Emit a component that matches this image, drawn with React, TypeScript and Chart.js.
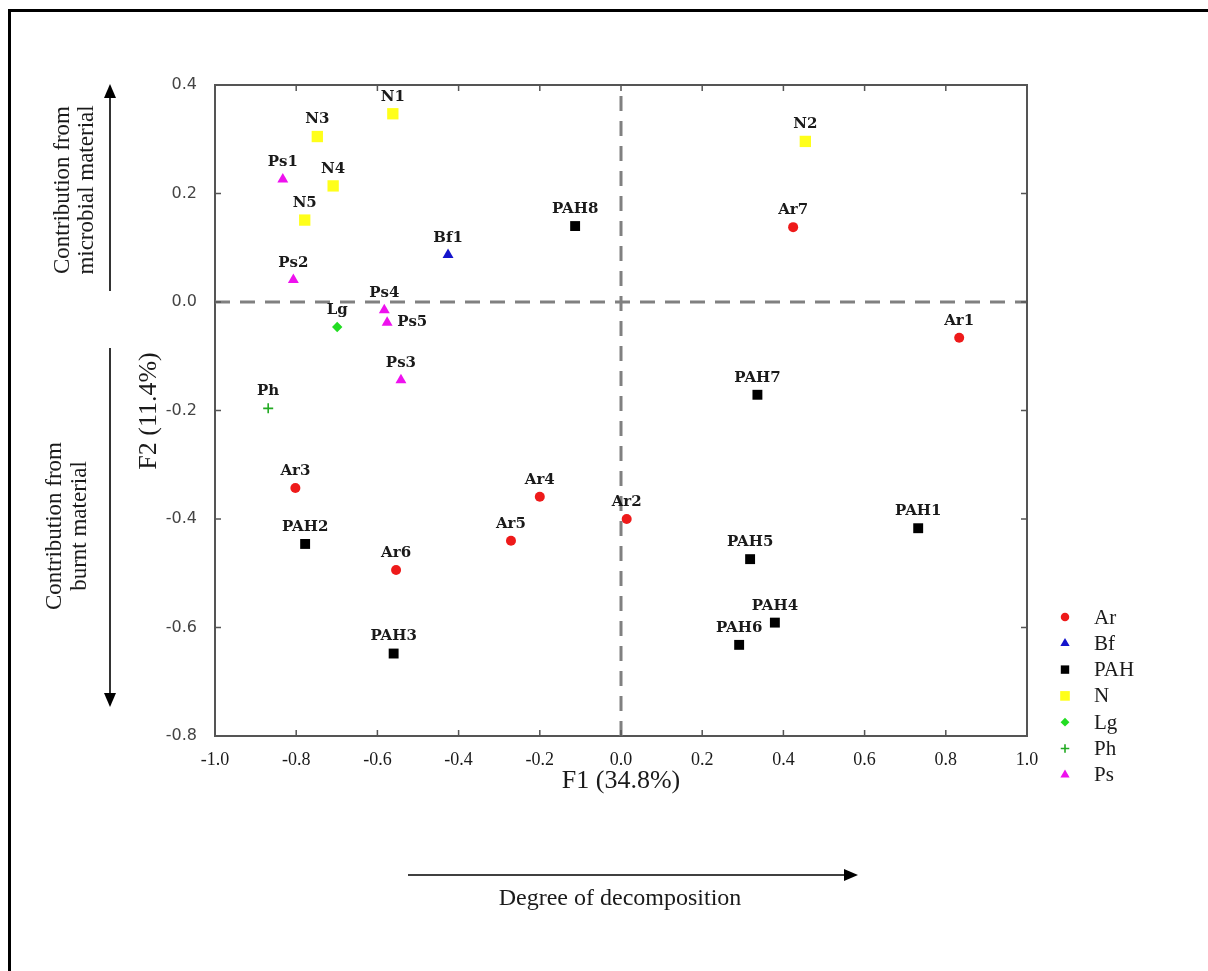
import React, { useEffect, useRef } from "react";
import { Chart, registerables } from "chart.js";
import { drawPoint } from "chart.js/helpers";

Chart.register(...registerables);

// ---------- data ----------
const groupNames = ["Ar", "Bf", "PAH", "N", "Lg", "Ph", "Ps"];

const arLabels = ["Ar1", "Ar2", "Ar3", "Ar4", "Ar5", "Ar6", "Ar7"];
const arX = [0.833, 0.014, -0.802, -0.2, -0.271, -0.554, 0.424];
const arY = [-0.066, -0.4, -0.343, -0.359, -0.44, -0.494, 0.138];

const bfLabels = ["Bf1"];
const bfX = [-0.426];
const bfY = [0.087];

const pahLabels = ["PAH1", "PAH2", "PAH3", "PAH4", "PAH5", "PAH6", "PAH7", "PAH8"];
const pahX = [0.732, -0.778, -0.56, 0.379, 0.318, 0.291, 0.336, -0.113];
const pahY = [-0.417, -0.446, -0.648, -0.591, -0.474, -0.632, -0.171, 0.14];

const nLabels = ["N1", "N2", "N3", "N4", "N5"];
const nX = [-0.562, 0.454, -0.748, -0.709, -0.779];
const nY = [0.347, 0.296, 0.305, 0.214, 0.151];

const lgLabels = ["Lg"];
const lgX = [-0.699];
const lgY = [-0.046];

const phLabels = ["Ph"];
const phX = [-0.869];
const phY = [-0.196];

const psLabels = ["Ps1", "Ps2", "Ps3", "Ps4", "Ps5"];
const psX = [-0.833, -0.807, -0.542, -0.583, -0.576];
const psY = [0.226, 0.041, -0.144, -0.015, -0.038];

const xTickValues = [-1.0, -0.8, -0.6, -0.4, -0.2, 0.0, 0.2, 0.4, 0.6, 0.8, 1.0];
const yTickValues = [-0.8, -0.6, -0.4, -0.2, 0.0, 0.2, 0.4];

const xTitle = "F1 (34.8%)";
const yTitle = "F2 (11.4%)";
const upperNote = ["Contribution from", "microbial material"];
const lowerNote = ["Contribution from", "burnt material"];
const bottomNote = "Degree of decomposition";

// labels that sit to the right of their marker
const rightLabels = ["Ps5"];

// ---------- styles ----------
const groupStyle: Record<string, any> = {
  Ar: { pointStyle: "circle", radius: 5, color: "#ee1a1a", border: 0 },
  Bf: { pointStyle: "triangle", radius: 6.3, color: "#1414cc", border: 0 },
  PAH: { pointStyle: "rect", radius: 7, color: "#000000", border: 0 },
  N: { pointStyle: "rect", radius: 8, color: "#ffff1a", border: 0 },
  Lg: { pointStyle: "rectRot", radius: 5.2, color: "#22dd22", border: 0 },
  Ph: { pointStyle: "cross", radius: 5, color: "#22aa22", border: 1.6 },
  Ps: { pointStyle: "triangle", radius: 6.3, color: "#ee11ee", border: 0 },
};

const groupData: Record<string, { labels: string[]; xs: number[]; ys: number[] }> = {
  Ar: { labels: arLabels, xs: arX, ys: arY },
  Bf: { labels: bfLabels, xs: bfX, ys: bfY },
  PAH: { labels: pahLabels, xs: pahX, ys: pahY },
  N: { labels: nLabels, xs: nX, ys: nY },
  Lg: { labels: lgLabels, xs: lgX, ys: lgY },
  Ph: { labels: phLabels, xs: phX, ys: phY },
  Ps: { labels: psLabels, xs: psX, ys: psY },
};

const SERIF = "'Liberation Serif', 'Times New Roman', serif";
const LABEL_FONT = "bold 15px 'DejaVu Serif', serif";
const AXIS_COLOR = "#555555";

function drawArrow(ctx: CanvasRenderingContext2D, x1: number, y1: number, x2: number, y2: number) {
  const ang = Math.atan2(y2 - y1, x2 - x1);
  const head = 14;
  const half = 6;
  const bx = x2 - head * Math.cos(ang);
  const by = y2 - head * Math.sin(ang);
  ctx.save();
  ctx.strokeStyle = "#000";
  ctx.fillStyle = "#000";
  ctx.lineWidth = 1.6;
  ctx.beginPath();
  ctx.moveTo(x1, y1);
  ctx.lineTo(bx, by);
  ctx.stroke();
  ctx.beginPath();
  ctx.moveTo(x2, y2);
  ctx.lineTo(bx + half * Math.sin(ang), by - half * Math.cos(ang));
  ctx.lineTo(bx - half * Math.sin(ang), by + half * Math.cos(ang));
  ctx.closePath();
  ctx.fill();
  ctx.restore();
}

function rotatedText(ctx: CanvasRenderingContext2D, text: string, x: number, y: number, font: string) {
  ctx.save();
  ctx.translate(x, y);
  ctx.rotate(-Math.PI / 2);
  ctx.font = font;
  ctx.textAlign = "center";
  ctx.textBaseline = "middle";
  ctx.fillStyle = "#1a1a1a";
  ctx.fillText(text, 0, 0);
  ctx.restore();
}

const decorPlugin = {
  id: "decor",
  afterDatasetsDraw(chart: any) {
    const ctx: CanvasRenderingContext2D = chart.ctx;
    const { left, right, top, bottom } = chart.chartArea;
    const xs = chart.scales.x;
    const ys = chart.scales.y;

    // frame top / right
    ctx.save();
    ctx.strokeStyle = AXIS_COLOR;
    ctx.lineWidth = 2;
    ctx.beginPath();
    ctx.moveTo(left, top);
    ctx.lineTo(right, top);
    ctx.lineTo(right, bottom);
    ctx.stroke();
    // inward ticks
    ctx.lineWidth = 1.5;
    ctx.beginPath();
    xTickValues.forEach((v) => {
      const px = xs.getPixelForValue(v);
      ctx.moveTo(px, bottom);
      ctx.lineTo(px, bottom - 6);
      ctx.moveTo(px, top);
      ctx.lineTo(px, top + 6);
    });
    yTickValues.forEach((v) => {
      const py = ys.getPixelForValue(v);
      ctx.moveTo(left, py);
      ctx.lineTo(left + 6, py);
      ctx.moveTo(right, py);
      ctx.lineTo(right - 6, py);
    });
    ctx.stroke();
    ctx.restore();

    // point labels
    ctx.save();
    ctx.font = LABEL_FONT;
    ctx.fillStyle = "#1a1a1a";
    ctx.textBaseline = "middle";
    chart.data.datasets.forEach((ds: any, di: number) => {
      if (!ds.pointLabels) return;
      const meta = chart.getDatasetMeta(di);
      meta.data.forEach((pt: any, i: number) => {
        const lab = ds.pointLabels[i];
        if (rightLabels.includes(lab)) {
          ctx.textAlign = "left";
          ctx.fillText(lab, pt.x + 10, pt.y - 1);
        } else {
          ctx.textAlign = "center";
          ctx.fillText(lab, pt.x, pt.y - 17);
        }
      });
    });
    ctx.restore();

    // legend
    ctx.save();
    const lx = 1065;
    const ly0 = 617;
    const step = 26.3;
    groupNames.forEach((g, i) => {
      const st = groupStyle[g];
      const y = ly0 + i * step;
      ctx.fillStyle = st.color;
      ctx.strokeStyle = st.color;
      ctx.lineWidth = st.border || 1;
      drawPoint(ctx, { pointStyle: st.pointStyle, radius: st.radius * 0.85, borderWidth: st.border, rotation: 0 } as any, lx, y);
      ctx.fillStyle = "#1a1a1a";
      ctx.font = `21px ${SERIF}`;
      ctx.textAlign = "left";
      ctx.textBaseline = "middle";
      ctx.fillText(g, 1094, y + 1);
    });
    ctx.restore();

    // axis titles
    ctx.save();
    ctx.fillStyle = "#1a1a1a";
    ctx.font = `26px ${SERIF}`;
    ctx.textAlign = "center";
    ctx.textBaseline = "middle";
    ctx.fillText(xTitle, (left + right) / 2, 781);
    ctx.restore();
    rotatedText(ctx, yTitle, 149, 411, `26px ${SERIF}`);

    // side notes
    rotatedText(ctx, upperNote[0], 63, 190, `23px ${SERIF}`);
    rotatedText(ctx, upperNote[1], 87, 190, `23px ${SERIF}`);
    rotatedText(ctx, lowerNote[0], 55, 526, `23px ${SERIF}`);
    rotatedText(ctx, lowerNote[1], 80, 526, `23px ${SERIF}`);
    drawArrow(ctx, 110, 291, 110, 84);
    drawArrow(ctx, 110, 348, 110, 707);

    drawArrow(ctx, 408, 875, 858, 875);
    ctx.save();
    ctx.fillStyle = "#1a1a1a";
    ctx.font = `24px ${SERIF}`;
    ctx.textAlign = "center";
    ctx.textBaseline = "middle";
    ctx.fillText(bottomNote, 620, 899);
    ctx.restore();
  },
};

export default function App() {
  const canvasRef = useRef<HTMLCanvasElement | null>(null);

  useEffect(() => {
    if (!canvasRef.current) return;

    const scatterSets = groupNames.map((g) => {
      const d = groupData[g];
      const st = groupStyle[g];
      return {
        type: "scatter" as const,
        label: g,
        pointLabels: d.labels,
        data: d.xs.map((x, i) => ({ x, y: d.ys[i] })),
        pointStyle: st.pointStyle,
        pointRadius: st.radius,
        pointBackgroundColor: st.color,
        pointBorderColor: st.color,
        pointBorderWidth: st.border,
        backgroundColor: st.color,
        borderColor: st.color,
        order: 1,
      };
    });

    const dashStyle = {
      type: "line" as const,
      showLine: true,
      pointRadius: 0,
      borderColor: "#808080",
      borderWidth: 3,
      borderDash: [15, 10],
      fill: false,
      order: 10,
    };

    const chart = new Chart(canvasRef.current, {
      type: "scatter",
      data: {
        datasets: [
          { ...dashStyle, label: "zeroY", data: [{ x: xTickValues[0], y: 0 }, { x: xTickValues[xTickValues.length - 1], y: 0 }] },
          { ...dashStyle, label: "zeroX", data: [{ x: 0, y: yTickValues[0] }, { x: 0, y: yTickValues[yTickValues.length - 1] }] },
          ...scatterSets,
        ] as any,
      },
      options: {
        responsive: false,
        animation: false,
        devicePixelRatio: 1,
        layout: { padding: { left: 155, top: 85, right: 181, bottom: 195 } },
        plugins: {
          legend: { display: false },
          tooltip: { enabled: false },
          title: { display: false },
        },
        scales: {
          x: {
            type: "linear",
            min: -1,
            max: 1,
            afterBuildTicks: (s: any) => {
              s.ticks = xTickValues.map((v) => ({ value: v }));
            },
            afterFit: (s: any) => {
              s.height = 40;
            },
            grid: { display: false },
            border: { display: true, color: AXIS_COLOR, width: 2 },
            ticks: {
              padding: 5,
              color: "#1a1a1a",
              font: { family: SERIF, size: 18 },
              callback: (v: any) => Number(v).toFixed(1),
              maxRotation: 0,
              autoSkip: false,
            },
          },
          y: {
            type: "linear",
            min: -0.8,
            max: 0.4,
            afterBuildTicks: (s: any) => {
              s.ticks = yTickValues.map((v) => ({ value: v }));
            },
            afterFit: (s: any) => {
              s.width = 60;
            },
            grid: { display: false },
            border: { display: true, color: AXIS_COLOR, width: 2 },
            ticks: {
              padding: 10,
              color: "#444444",
              font: { family: "'DejaVu Sans', sans-serif", size: 16 },
              callback: (v: any) => Number(v).toFixed(1),
              autoSkip: false,
            },
          },
        },
      },
      plugins: [decorPlugin],
    });

    return () => chart.destroy();
  }, []);

  return (
    <div
      style={{
        position: "fixed",
        left: 0,
        top: 0,
        width: 1208,
        height: 971,
        overflow: "hidden",
        background: "#ffffff",
      }}
    >
      <div
        style={{
          position: "absolute",
          left: 8,
          top: 9,
          width: 1300,
          height: 1100,
          border: "3px solid #000",
          boxSizing: "border-box",
        }}
      />
      <canvas
        ref={canvasRef}
        width={1208}
        height={971}
        style={{ position: "absolute", left: 0, top: 0, width: 1208, height: 971 }}
      />
    </div>
  );
}
